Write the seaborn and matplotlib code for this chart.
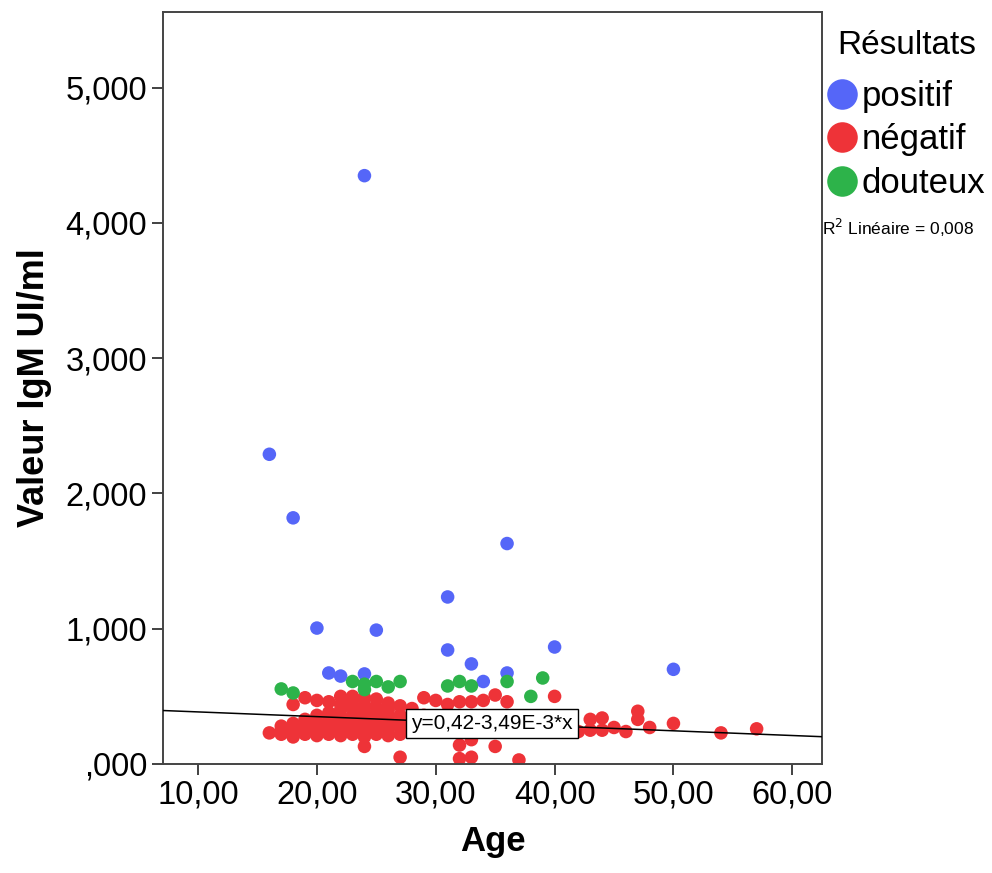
import numpy as np
import pandas as pd
import matplotlib
matplotlib.use("Agg")
import matplotlib.pyplot as plt
from matplotlib.lines import Line2D
from matplotlib.ticker import FuncFormatter
import seaborn as sns

# values
pos_age = [24, 16, 18, 36, 31, 20, 25, 40, 31, 50, 33, 21, 22, 24, 34, 36]
pos_val = [4.35, 2.29, 1.82, 1.63, 1.235, 1.005, 0.99, 0.865, 0.843, 0.70,
           0.74, 0.673, 0.65, 0.666, 0.61, 0.673]

dou_age = [17, 18, 23, 24, 24, 25, 26, 27, 31, 32, 33, 36, 38, 39]
dou_val = [0.555, 0.525, 0.61, 0.59, 0.55, 0.61, 0.57, 0.61, 0.577, 0.61,
           0.577, 0.61, 0.50, 0.636]

neg_age = [16,
           17, 17, 17,
           18, 18, 18, 18, 18,
           19, 19, 19, 19, 19,
           20, 20, 20, 20, 20, 20,
           21, 21, 21, 21, 21, 21, 21,
           22, 22, 22, 22, 22, 22, 22, 22,
           23, 23, 23, 23, 23, 23, 23, 23, 23,
           24, 24, 24, 24, 24, 24, 24, 24, 24, 24,
           25, 25, 25, 25, 25, 25, 25,
           26, 26, 26, 26, 26, 26,
           27, 27, 27, 27, 27, 27,
           28, 28, 28, 28,
           29, 29, 29, 29,
           30, 30, 30,
           31, 31,
           32, 32, 32, 32, 32,
           33, 33, 33, 33,
           34, 34, 34,
           35, 35, 35,
           36, 36,
           37, 37,
           38, 38,
           39,
           40, 40, 40,
           41, 42,
           43, 43,
           44, 44,
           45, 46,
           47, 47,
           48, 50, 54, 57]
neg_val = [0.23,
           0.22, 0.28, 0.25,
           0.44, 0.20, 0.26, 0.30, 0.24,
           0.49, 0.22, 0.28, 0.33, 0.25,
           0.47, 0.21, 0.27, 0.31, 0.36, 0.24,
           0.46, 0.38, 0.22, 0.27, 0.32, 0.25, 0.29,
           0.44, 0.50, 0.21, 0.26, 0.30, 0.35, 0.40, 0.24,
           0.50, 0.47, 0.22, 0.27, 0.31, 0.36, 0.42, 0.25, 0.33,
           0.49, 0.13, 0.20, 0.25, 0.29, 0.34, 0.39, 0.44, 0.23, 0.31,
           0.48, 0.22, 0.27, 0.32, 0.37, 0.42, 0.25,
           0.45, 0.21, 0.26, 0.30, 0.35, 0.40,
           0.05, 0.22, 0.27, 0.31, 0.36, 0.43,
           0.24, 0.29, 0.33, 0.41,
           0.49, 0.26, 0.31, 0.36,
           0.47, 0.25, 0.30,
           0.44, 0.28,
           0.46, 0.14, 0.04, 0.24, 0.33,
           0.46, 0.05, 0.18, 0.27,
           0.47, 0.26, 0.35,
           0.51, 0.13, 0.30,
           0.46, 0.25,
           0.03, 0.29,
           0.32, 0.27,
           0.30,
           0.50, 0.26, 0.33,
           0.28, 0.24,
           0.33, 0.25,
           0.34, 0.25,
           0.27, 0.24,
           0.39, 0.33,
           0.27, 0.30, 0.23, 0.26]

groups = ["positif", "négatif", "douteux"]
colors = ["#5566f8", "#ee3338", "#2db34a"]
fit_intercept = 0.42
fit_slope = -3.49e-3

df = pd.concat([
    pd.DataFrame({"Age": pos_age, "Valeur": pos_val, "Résultats": "positif"}),
    pd.DataFrame({"Age": neg_age, "Valeur": neg_val, "Résultats": "négatif"}),
    pd.DataFrame({"Age": dou_age, "Valeur": dou_val, "Résultats": "douteux"}),
], ignore_index=True)

sns.set_style("white")
plt.rcParams["font.family"] = ["Liberation Sans", "DejaVu Sans"]
plt.rcParams["text.color"] = "black"
plt.rcParams["axes.labelcolor"] = "black"

fig = plt.figure(figsize=(9.92, 8.73), dpi=100)
ax = fig.add_axes([163 / 992, 1 - 764 / 873, (822 - 163) / 992, (764 - 12) / 873])

sns.scatterplot(data=df, x="Age", y="Valeur", hue="Résultats", hue_order=groups,
                palette=colors, s=95, linewidth=0, alpha=1, legend=False, ax=ax)

ax.axline((0, fit_intercept), slope=fit_slope, color="black", lw=1.1, zorder=3)
ax.text(34.7, 0.30, "y=0,42-3,49E-3*x", ha="center", va="center", fontsize=15,
        zorder=4, bbox=dict(boxstyle="square,pad=0.25", fc="white", ec="black", lw=1))

ax.set_xlim(7.05, 62.5)
ax.set_ylim(0, 5.56)
ax.set_xticks([10, 20, 30, 40, 50, 60])
ax.set_yticks([0, 1, 2, 3, 4, 5])
ax.xaxis.set_major_formatter(FuncFormatter(lambda v, p: f"{v:.2f}".replace(".", ",")))
ax.yaxis.set_major_formatter(
    FuncFormatter(lambda v, p: f"{v:.3f}".replace(".", ",").lstrip("0") if v < 1 else f"{v:.3f}".replace(".", ",")))
ax.tick_params(axis="both", labelsize=23.5, length=8, width=1.3, direction="out",
               bottom=True, left=True, colors="#333333", labelcolor="black")
for sp in ax.spines.values():
    sp.set_color("#444444")
    sp.set_linewidth(1.4)

ax.set_xlabel("Age", fontsize=25, fontweight="bold", labelpad=10)
ax.set_ylabel("Valeur IgM UI/ml", fontsize=26, fontweight="bold", labelpad=10)

handles = [Line2D([], [], marker="o", ls="", markersize=22, markerfacecolor=c,
                  markeredgewidth=0) for c in colors]
fig.text(907 / 992, 1 - 45 / 873, "Résultats", fontsize=24, ha="center", va="center")
fig.legend(handles, groups, loc="upper left",
           bbox_to_anchor=(825 / 992, 1 - 80 / 873), frameon=False,
           fontsize=25, handletextpad=0.05, handlelength=1.0, labelspacing=0.3,
           borderaxespad=0, borderpad=0)
fig.text(822 / 992, 1 - 228 / 873, "R$^2$ Linéaire = 0,008", fontsize=12.5,
         ha="left", va="center")

fig.savefig("out.png", dpi=100)
